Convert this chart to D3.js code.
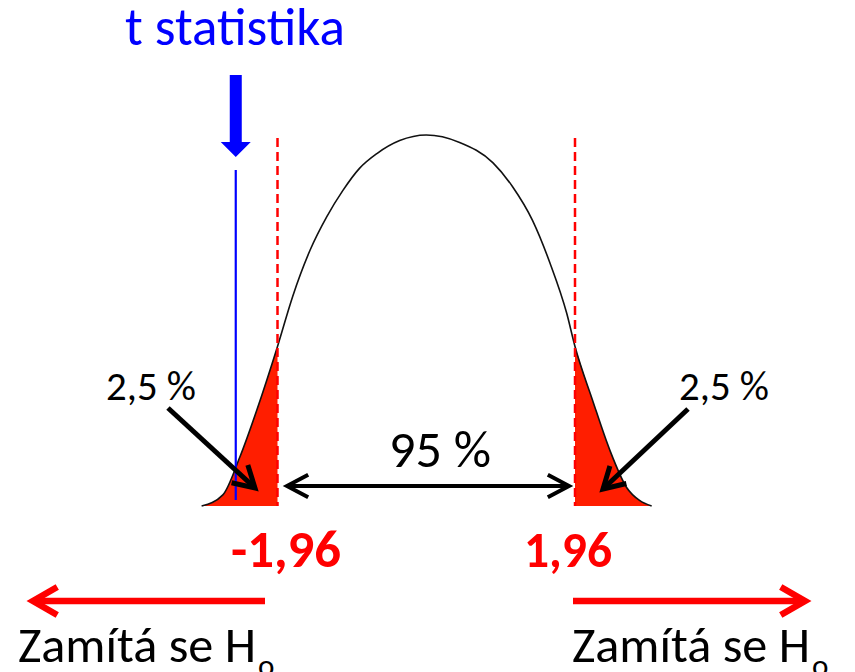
<!DOCTYPE html>
<html><head><meta charset="utf-8">
<script src="https://cdn.jsdelivr.net/npm/d3@7"></script>
<style>html,body{margin:0;padding:0;background:#fff;overflow:hidden;} svg{display:block;}</style>
</head><body><svg id="c" width="855" height="672"></svg>
<script>
// ---- data ----
const zValues       = [-2.96, -2.68, -2.46, -2.23, -1.96, -1.76, -1.53, -1.31, -1.10, -0.88, -0.65, -0.35, 0.00, 0.44, 0.88, 1.14, 1.40, 1.63, 1.85, 1.96, 2.19, 2.42, 2.64, 2.81, 2.97];
const densityValues = [0.00, 0.03, 0.13, 0.26, 0.43, 0.565, 0.69, 0.78, 0.85, 0.91, 0.95, 0.985, 1.00, 0.98, 0.925, 0.86, 0.77, 0.655, 0.52, 0.43, 0.286, 0.15, 0.05, 0.015, 0.00];
const criticalValues = [-1.96, 1.96];
const tStatistic = -2.51;
const titleLabel = "t statistika";
const tailLabel = "2,5 %";
const centerLabel = "95 %";
const criticalLabels = ["-1,96", "1,96"];
const rejectLabel = "Zamítá se H";
const rejectSub = "o";

const FONT = "Carlito, Calibri, Lato, sans-serif";
const svg = d3.select("#c");

const x = d3.scaleLinear().domain(criticalValues).range([277.5, 575]);
const y = d3.scaleLinear().domain([0, 1]).range([506, 135]);

const pts = zValues.map((z, i) => ({ z, d: densityValues[i] }));
const line = d3.line().x(p => x(p.z)).y(p => y(p.d)).curve(d3.curveMonotoneX);
const area = d3.area().x(p => x(p.z)).y0(y(0)).y1(p => y(p.d)).curve(d3.curveMonotoneX);

// red tails
svg.append("path").datum(pts.filter(p => p.z <= criticalValues[0]))
  .attr("d", area).attr("fill", "#ff1e00");
svg.append("path").datum(pts.filter(p => p.z >= criticalValues[1]))
  .attr("d", area).attr("fill", "#ff1e00");

// curve
svg.append("path").datum(pts).attr("d", line)
  .attr("fill", "none").attr("stroke", "#111").attr("stroke-width", 1.6);

// dashed critical lines
svg.selectAll("line.crit").data(criticalValues).join("line")
  .attr("class", "crit")
  .attr("x1", d => x(d)).attr("x2", d => x(d))
  .attr("y1", 138).attr("y2", y(0))
  .attr("stroke", "#ff0000").attr("stroke-width", 2.5).attr("stroke-dasharray", "9,5");

// t statistic line
const tx = x(tStatistic);
svg.append("line").attr("x1", tx).attr("x2", tx).attr("y1", 170).attr("y2", 500)
  .attr("stroke", "#0000ff").attr("stroke-width", 2.2);

// blue block arrow
svg.append("path")
  .attr("d", `M${tx-6},75 L${tx+6},75 L${tx+6},142 L${tx+15},142 L${tx},157 L${tx-15},142 L${tx-6},142 Z`)
  .attr("fill", "#0000ff");

// generic arrow helper
function arrow(x1, y1, x2, y2, o) {
  const g = svg.append("g").attr("fill", "none").attr("stroke", o.color)
    .attr("stroke-width", o.width).attr("stroke-linejoin", "miter").attr("stroke-miterlimit", 10);
  g.append("path").attr("d", `M${x1},${y1} L${x2},${y2}`);
  const head = (ax, ay, bx, by) => {
    const t = Math.atan2(by - ay, bx - ax);
    const a = o.angle * Math.PI / 180;
    const p1 = [bx - o.head * Math.cos(t - a), by - o.head * Math.sin(t - a)];
    const p2 = [bx - o.head * Math.cos(t + a), by - o.head * Math.sin(t + a)];
    g.append("path").attr("d", `M${p1} L${bx},${by} L${p2}`);
  };
  head(x1, y1, x2, y2);
  if (o.both) head(x2, y2, x1, y1);
}

// black diagonal arrows
arrow(168, 408, 255, 488, { color: "#000", width: 5, head: 24, angle: 30 });
arrow(688, 409, 603, 489, { color: "#000", width: 5, head: 24, angle: 30 });
// double arrow 95 %
arrow(287, 486, 569, 486, { color: "#000", width: 4, head: 24, angle: 28, both: true });
// red reject arrows
arrow(265, 601, 33, 601, { color: "#ff0000", width: 6.5, head: 28, angle: 30 });
arrow(573, 601, 805, 601, { color: "#ff0000", width: 6.5, head: 28, angle: 30 });

// text helper with width fitting
function label(txt, cx, by, size, color, anchor, weight, targetW) {
  const t = svg.append("text").attr("x", cx).attr("y", by)
    .attr("font-family", FONT).attr("font-size", size).attr("fill", color)
    .attr("text-anchor", anchor).attr("font-weight", weight || "normal").text(txt);
  if (targetW) {
    const w = t.node().getComputedTextLength();
    t.attr("font-size", size * targetW / w);
  }
  return t;
}

label(titleLabel, 235, 45, 45, "#0000ff", "middle", "normal", 220);
label(tailLabel, 151, 400, 35, "#000", "middle", "normal", 90);
label(tailLabel, 724, 400, 35, "#000", "middle", "normal", 90);
label(centerLabel, 440, 467, 44, "#000", "middle", "normal", 102);
label(criticalLabels[0], 286, 567, 46, "#ff0000", "middle", "bold", 110);
label(criticalLabels[1], 568, 567, 46, "#ff0000", "middle", "bold", 88);

function reject(x0) {
  const t = label(rejectLabel, x0, 662, 45, "#000", "start", "normal", 238);
  const w = t.node().getComputedTextLength();
  const fs = +t.attr("font-size");
  svg.append("text").attr("x", x0 + w + 2).attr("y", 662 + fs * 0.27)
    .attr("font-family", FONT).attr("font-size", fs * 0.62).attr("fill", "#000").text(rejectSub);
}
reject(18);
reject(572);
</script></body></html>
